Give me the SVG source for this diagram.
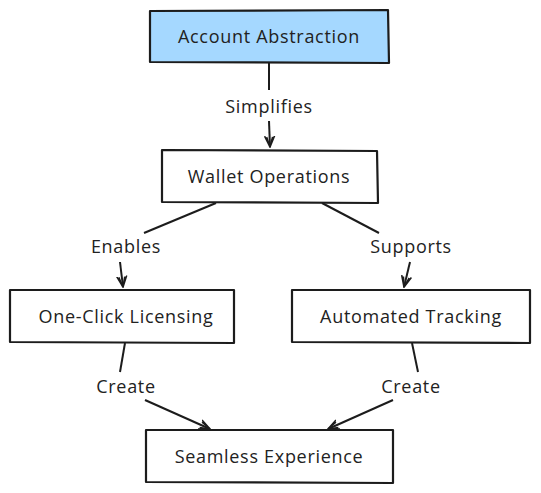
<svg xmlns="http://www.w3.org/2000/svg" width="541" height="493" viewBox="0 0 541 493">
<style>
.box{fill:#ffffff;stroke:#1c1c1c;stroke-width:2.2;stroke-linejoin:round}
.blue{fill:#a5d8ff}
.edge{fill:none;stroke:#1c1c1c;stroke-width:2}
.lbl{font-family:"Open Sans","Liberation Sans",sans-serif;font-size:18px;letter-spacing:0.7px;fill:#222;text-anchor:middle;dominant-baseline:central}
</style>
<defs>
<marker id="arr" viewBox="0 0 12 12" refX="11" refY="6" markerWidth="12" markerHeight="12" markerUnits="userSpaceOnUse" orient="auto">
<path d="M0,1 L11,6 L0,11 M1,3 L11,6 L1,9" fill="none" stroke="#1c1c1c" stroke-width="1.6"/>
</marker>
</defs>
<rect width="541" height="493" fill="#ffffff"/>
<g id="connectors">
<path class="edge" d="M269,63 L269,90"/>
<path class="edge" d="M269,121 L270,147" marker-end="url(#arr)"/>
<path class="edge" d="M216,203 L144,233"/>
<path class="edge" d="M120,262 L123,287" marker-end="url(#arr)"/>
<path class="edge" d="M322,203 L379,233"/>
<path class="edge" d="M410,262 L404,287" marker-end="url(#arr)"/>
<path class="edge" d="M125,343 L120,372"/>
<path class="edge" d="M145,400 L210,429" marker-end="url(#arr)"/>
<path class="edge" d="M412,343 L418,372"/>
<path class="edge" d="M393,400 L328,429" marker-end="url(#arr)"/>
<text class="lbl" x="269" y="106">Simplifies</text>
<text class="lbl" x="126" y="246">Enables</text>
<text class="lbl" x="411" y="246">Supports</text>
<text class="lbl" x="126" y="386">Create</text>
<text class="lbl" x="411" y="386">Create</text>
</g>
<g id="node-A">
<path class="box blue" d="M150,11 L388,10 L389,63 L150,62 Z"/>
<text class="lbl" x="269" y="36">Account Abstraction</text>
</g>
<g id="node-B">
<path class="box" d="M162,150 L377,151 L378,203 L162,202 Z"/>
<text class="lbl" x="269" y="176">Wallet Operations</text>
</g>
<g id="node-C">
<path class="box" d="M10,290 L234,290 L234,343 L10,342 Z"/>
<text class="lbl" x="126" y="316">One-Click Licensing</text>
</g>
<g id="node-D">
<path class="box" d="M292,290 L530,290 L530,343 L292,342 Z"/>
<text class="lbl" x="411" y="316">Automated Tracking</text>
</g>
<g id="node-E">
<path class="box" d="M146,430 L393,430 L393,483 L146,482 Z"/>
<text class="lbl" x="269" y="456">Seamless Experience</text>
</g>
</svg>
